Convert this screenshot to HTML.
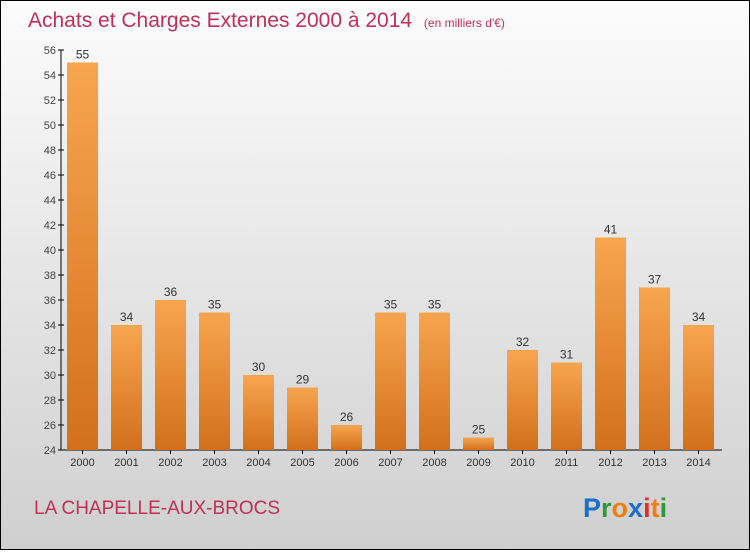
<!DOCTYPE html>
<html><head><meta charset="utf-8"><style>
body{margin:0;width:750px;height:550px;overflow:hidden;font-family:"Liberation Sans",sans-serif}
</style></head><body>
<svg width="750" height="550" xmlns="http://www.w3.org/2000/svg">
<defs>
<linearGradient id="bg" x1="0" y1="0" x2="0" y2="1"><stop offset="0" stop-color="#fcfcfc"/><stop offset="1" stop-color="#cfcfcf"/></linearGradient>
<linearGradient id="bar" x1="0" y1="0" x2="0" y2="1"><stop offset="0" stop-color="#f8a550"/><stop offset="1" stop-color="#d2701c"/></linearGradient>
</defs>
<rect x="0.5" y="0.5" width="749" height="549" fill="url(#bg)" stroke="#000"/>
<text x="28" y="27" font-size="21" fill="#c0305a">Achats et Charges Externes 2000 à 2014 <tspan font-size="12" dx="6">(en milliers d'€)</tspan></text>
<g id="axes"></g>
<g id="bars"></g>
<text x="34" y="514" font-size="19" fill="#c0305a">LA CHAPELLE-AUX-BROCS</text>
<text x="583" y="517" font-size="27" font-weight="bold"><tspan fill="#1a6fc8">P</tspan><tspan fill="#2a9a3a">r</tspan><tspan fill="#f07d10">o</tspan><tspan fill="#1a6fc8">x</tspan><tspan fill="#e03020">i</tspan><tspan fill="#f07d10">t</tspan><tspan fill="#2a9a3a">i</tspan></text>
</svg>
<script>
const years=["2000","2001","2002","2003","2004","2005","2006","2007","2008","2009","2010","2011","2012","2013","2014"];
const values=[55,34,36,35,30,29,26,35,35,25,32,31,41,37,34];
const yTicks=[24,26,28,30,32,34,36,38,40,42,44,46,48,50,52,54,56];
const NS="http://www.w3.org/2000/svg";
const y=v=>450-(v-24)*12.5;
const x=i=>67+i*44;
function mk(t,a,p){const e=document.createElementNS(NS,t);for(const k in a)e.setAttribute(k,a[k]);p.appendChild(e);return e;}
const ax=document.getElementById('axes'),bg=document.getElementById('bars');
let l=mk('line',{x1:61,y1:50,x2:61,y2:450,stroke:'#000'},ax);


l=mk('line',{x1:61,y1:450,x2:722,y2:450,stroke:'#000'},ax);


yTicks.forEach(v=>{
 mk('line',{x1:58,y1:y(v),x2:64,y2:y(v),stroke:'#000'},ax);
 const t=mk('text',{x:56,y:y(v)+4,'font-size':11,fill:'#444','text-anchor':'end'},ax);t.textContent=v;
 
 
});
values.forEach((v,i)=>{
 const r=mk('rect',{x:x(i),y:y(v),width:31,height:450-y(v),fill:'url(#bar)'},bg);
 
 
 const t=mk('text',{x:x(i)+15.5,y:y(v)-4,'font-size':12,fill:'#333','text-anchor':'middle'},bg);t.textContent=v;
 
 
 const tx=mk('text',{x:x(i)+15.5,y:466,'font-size':11,fill:'#333','text-anchor':'middle'},bg);tx.textContent=years[i];
 
 
 mk('line',{x1:x(i)+15.5,y1:450,x2:x(i)+15.5,y2:454,stroke:'#000'},ax);
});
</script>
</body></html>
